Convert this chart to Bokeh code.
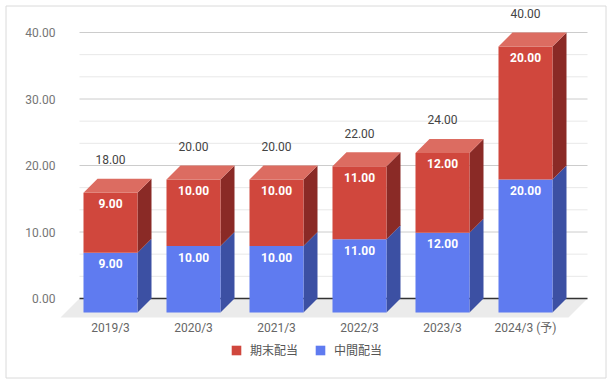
import numpy as np
from bokeh.plotting import figure
from bokeh.models import ColumnDataSource, Legend, LegendItem, Range1d
from bokeh.core.properties import value
from bokeh.embed import file_html
from bokeh.resources import INLINE

# ---- data ----
categories = ["2019/3", "2020/3", "2021/3", "2022/3", "2023/3", "2024/3 (予)"]
interim = [9.0, 10.0, 10.0, 11.0, 12.0, 20.0]      # 中間配当
year_end = [9.0, 10.0, 10.0, 11.0, 12.0, 20.0]     # 期末配当
y_ticks = [0, 10, 20, 30, 40]
series_names = ["期末配当", "中間配当"]

# ---- layout helpers (pixel -> data) ----
W, H = 613, 386
X0PX, XSTEP = 110.0, 83.0
Y0PX, YSCALE = 298.0, 6.65


def fx(px):
    return (px - X0PX) / XSTEP


def fy(py):
    return (Y0PX - py) / YSCALE


DX = 14 / XSTEP
DY = 14 / YSCALE
FDX = 19 / XSTEP
FDY = 19 / YSCALE
HW = 27 / XSTEP

NUMFONT = "Roboto, Noto Sans CJK JP"
CJK = "Noto Sans CJK JP"

p = figure(width=W, height=H, x_range=Range1d(fx(0), fx(W)), y_range=Range1d(fy(H), fy(0)),
           output_backend="svg", toolbar_location=None, min_border=0,
           x_axis_type=None, y_axis_type=None)
p.outline_line_color = None
p.background_fill_color = "white"
p.border_fill_color = "white"

# outer border
p.quad(left=[fx(5.5)], right=[fx(605.5)], bottom=[fy(377.5)], top=[fy(5.5)],
       fill_alpha=0, line_color="#dadada", line_width=1)

# gridlines on back plane
gx0, gx1 = fx(79), fx(587)
top_v = max(y_ticks)
step = (y_ticks[1] - y_ticks[0]) / 3.0
minor = [k * step for k in range(1, int(round(top_v / step)) + 1) if k % 3 != 0]
p.segment(x0=[gx0] * len(minor), x1=[gx1] * len(minor), y0=minor, y1=minor,
          line_color="#e8e8e8", line_width=1)
major = [t for t in y_ticks if t > 0]
p.segment(x0=[gx0] * len(major), x1=[gx1] * len(major), y0=major, y1=major,
          line_color="#cccccc", line_width=1)

# floor
p.patch(x=[gx0, gx1, gx1 - FDX, gx0 - FDX], y=[0, 0, -FDY, -FDY],
        fill_color="#ebebeb", line_color=None)
p.segment(x0=[gx0], x1=[gx1], y0=[0], y1=[0], line_color="#333333", line_width=1.3)

# y tick labels
p.text(x=[fx(55)] * len(y_ticks), y=y_ticks, text=[f"{t:.2f}" for t in y_ticks],
       text_align="right", text_baseline="middle", text_color="#757575",
       text_font=value(NUMFONT), text_font_size="12px")

# bars
n = len(categories)
idx = np.arange(n, dtype=float)
lo_b = np.zeros(n)
hi_b = np.array(interim)
lo_r = hi_b
hi_r = hi_b + np.array(year_end)

styles = {
    "blue": dict(front="#5f7bf0", side="#3c50a3", top="#8196f3"),
    "red": dict(front="#d0473d", side="#8a2a26", top="#dc6c61"),
}

renderers = {}
for key, lo, hi in [("blue", lo_b, hi_b), ("red", lo_r, hi_r)]:
    st = styles[key]
    side_xs = [[i + HW, i + HW + DX, i + HW + DX, i + HW] for i in idx]
    side_ys = [[l - DY, l, h, h - DY] for l, h in zip(lo, hi)]
    p.patches(xs=side_xs, ys=side_ys, fill_color=st["side"], line_color=None)
    src = ColumnDataSource(dict(left=idx - HW, right=idx + HW, bottom=lo - DY, top=hi - DY))
    renderers[key] = p.quad(left="left", right="right", bottom="bottom", top="top",
                            source=src, fill_color=st["front"], line_color=None)

# top faces (top series)
top_xs = [[i - HW, i - HW + DX, i + HW + DX, i + HW] for i in idx]
top_ys = [[h - DY, h, h, h - DY] for h in hi_r]
p.patches(xs=top_xs, ys=top_ys, fill_color=styles["red"]["top"], line_color=None)

# segment labels
for lo, hi, vals in [(lo_b, hi_b, interim), (lo_r, hi_r, year_end)]:
    p.text(x=idx, y=hi - DY - 11 / YSCALE, text=[f"{v:.2f}" for v in vals],
           text_align="center", text_baseline="middle", text_color="white",
           text_font=value(NUMFONT), text_font_size="12px", text_font_style="bold")

# totals
p.text(x=idx, y=hi_r + 19 / YSCALE, text=[f"{v:.2f}" for v in hi_r],
       text_align="center", text_baseline="middle", text_color="#444444",
       text_font=value(NUMFONT), text_font_size="12px")

# category labels
p.text(x=idx, y=[fy(327)] * n, text=categories,
       text_align="center", text_baseline="middle", text_color="#666666",
       text_font=value(NUMFONT), text_font_size="12px")

legend = Legend(items=[LegendItem(label=series_names[0], renderers=[renderers["red"]]),
                       LegendItem(label=series_names[1], renderers=[renderers["blue"]])],
                orientation="horizontal", location=(230, 28),
                glyph_width=12, glyph_height=12, label_height=12, label_standoff=8,
                spacing=16, padding=0, margin=0,
                border_line_alpha=0, background_fill_alpha=0,
                label_text_font=CJK, label_text_font_size="12px",
                label_text_color="#555555")
p.add_layout(legend, "center")

open("out.html", "w").write(file_html(p, INLINE))
